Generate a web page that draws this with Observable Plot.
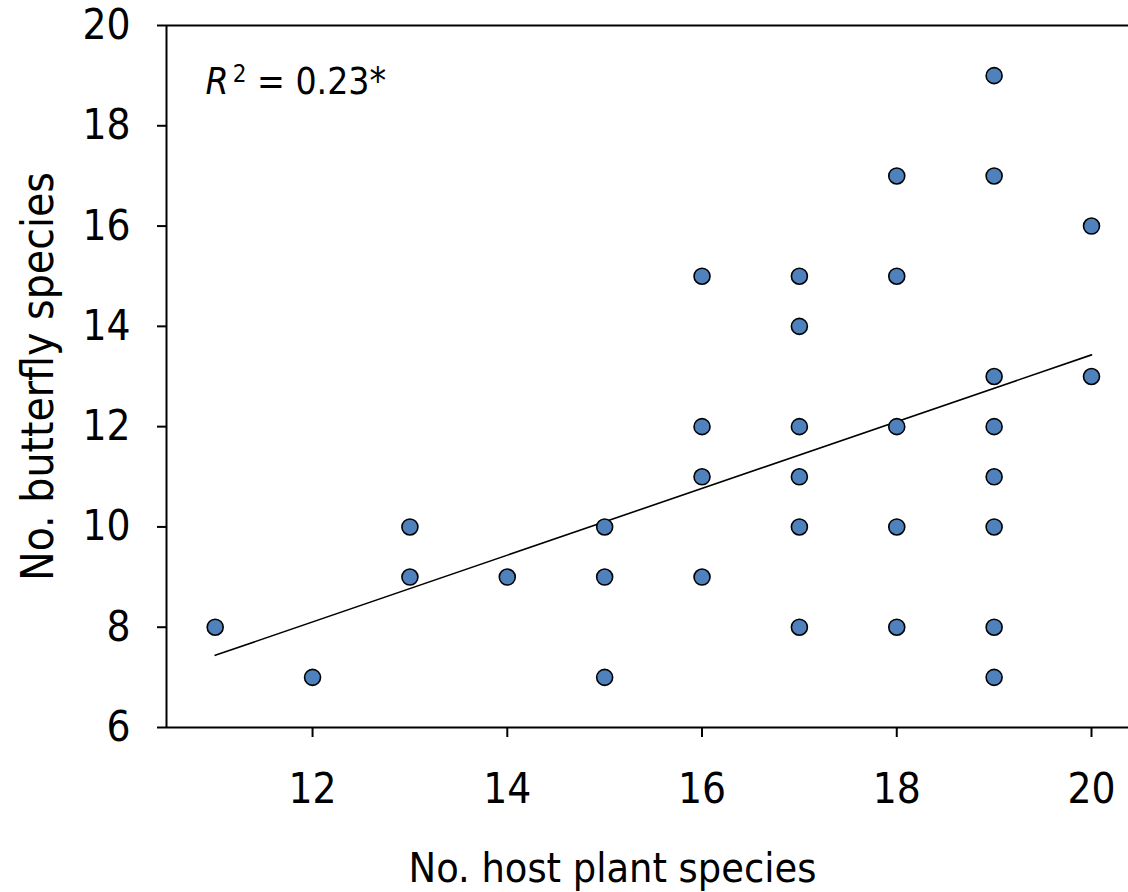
<!DOCTYPE html>
<html>
<head>
<meta charset="utf-8">
<script src="https://cdn.jsdelivr.net/npm/d3@7"></script>
<script src="https://cdn.jsdelivr.net/npm/@observablehq/plot@0.6"></script>
<style>
  html, body { margin: 0; padding: 0; background: #fff; }
  #chart { width: 1128px; height: 892px; }
</style>
</head>
<body>
<div id="chart"></div>
<script>
// Data
const hostPlants = [11,12,13,13,14,15,15,15,16,16,16,16,17,17,17,17,17,17,18,18,18,18,18,19,19,19,19,19,19,19,19,20,20];
const butterflies = [8,7,10,9,9,10,9,7,15,12,11,9,15,14,12,11,10,8,17,15,12,10,8,19,17,13,12,11,10,8,7,16,13];
const xTicks = [12,14,16,18,20];
const yTicks = [6,8,10,12,14,16,18,20];
const xTitle = "No. host plant species";
const yTitle = "No. butterfly species";
const r2Label = "R2 = 0.23*";

const data = hostPlants.map((x, i) => ({x, y: butterflies[i]}));
const font = "'DejaVu Sans Condensed', 'DejaVu Sans', sans-serif";

const chart = Plot.plot({
  width: 1128,
  height: 892,
  marginLeft: 166,
  marginRight: 0,
  marginTop: 25,
  marginBottom: 165,
  style: {fontFamily: font, fontStretch: "condensed", color: "#000", background: "#fff"},
  x: {domain: [10.5, 20.38]},
  y: {domain: [6, 20]},
  marks: [
    Plot.ruleY([20], {stroke: "#000", strokeWidth: 2}),
    Plot.ruleY([6], {stroke: "#000", strokeWidth: 2}),
    Plot.ruleX([10.5], {stroke: "#000", strokeWidth: 2}),
    Plot.axisY({ticks: yTicks, tickFormat: d => String(d), tickSize: 9, tickPadding: 27, fontSize: 42, strokeWidth: 2, label: null}),
    Plot.axisX({ticks: xTicks, tickFormat: d => String(d), tickSize: 10, tickPadding: 36, fontSize: 42, strokeWidth: 2, label: null}),
    Plot.linearRegressionY(data, {x: "x", y: "y", stroke: "#000", strokeWidth: 1.6, ci: 0}),
    Plot.dot(data, {x: "x", y: "y", r: 8, fill: "#4F81BD", stroke: "#000", strokeWidth: 1.6}),
    Plot.text([xTitle], {text: d => d, frameAnchor: "bottom", dx: -35, dy: 125, lineAnchor: "top", fontSize: 41}),
    Plot.text([yTitle], {text: d => d, frameAnchor: "left", textAnchor: "middle", rotate: -90, dx: -128, fontSize: 44}),
    Plot.text([r2Label], {text: d => d, frameAnchor: "top-left", textAnchor: "start", lineAnchor: "top", dx: 39, dy: 42, fontSize: 37})
  ]
});

// Rich formatting of the R² label
d3.select(chart).selectAll("text").filter(function() { return this.textContent === r2Label; }).each(function() {
  const t = d3.select(this);
  t.text(null);
  t.append("tspan").attr("font-style", "italic").text("R");
  t.append("tspan").attr("font-size", 24).attr("dx", 4).attr("dy", -12).text("2");
  t.append("tspan").attr("dy", 12).text(" = 0.23*");
});

document.getElementById("chart").appendChild(chart);
</script>
</body>
</html>
